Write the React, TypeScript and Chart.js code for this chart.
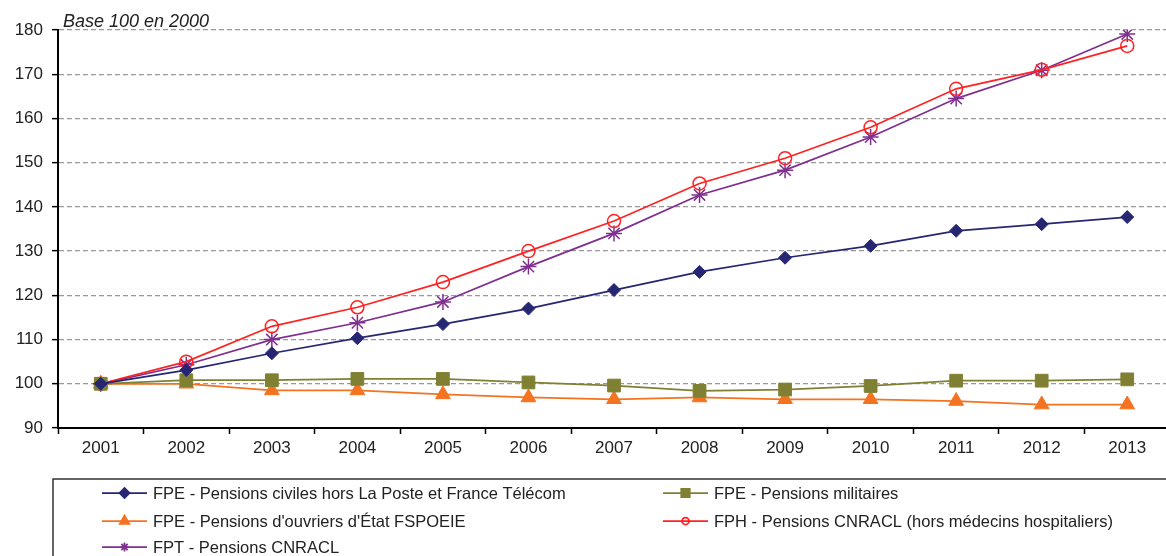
import React, { useEffect, useRef } from 'react';
import { Chart, registerables } from 'chart.js';
import { drawPoint } from 'chart.js/helpers';

Chart.register(...registerables);

const years = ['2001', '2002', '2003', '2004', '2005', '2006', '2007', '2008', '2009', '2010', '2011', '2012', '2013'];
const civiles = [100, 103.1, 106.9, 110.3, 113.5, 117, 121.2, 125.3, 128.5, 131.2, 134.6, 136.1, 137.7];
const militaires = [100, 100.8, 100.8, 101.1, 101.1, 100.3, 99.6, 98.4, 98.7, 99.5, 100.7, 100.7, 101];
const ouvriers = [100, 100, 98.5, 98.5, 97.6, 96.9, 96.5, 96.9, 96.5, 96.5, 96.1, 95.3, 95.3];
const fph = [100, 105, 113, 117.3, 123, 130, 136.8, 145.3, 151, 158, 166.7, 171, 176.4];
const fpt = [100, 104.3, 110, 113.8, 118.5, 126.5, 134, 142.7, 148.3, 155.8, 164.5, 170.9, 179.1];

const seriesLabels = [
  'FPE - Pensions civiles hors La Poste et France Télécom',
  'FPE - Pensions militaires',
  "FPE - Pensions d'ouvriers d'État FSPOEIE",
  'FPH - Pensions CNRACL (hors médecins hospitaliers)',
  'FPT - Pensions CNRACL',
];
const yTicks = { min: 90, max: 180, step: 10 };
const subtitle = 'Base 100 en 2000';

const FONT = '"Liberation Sans", Arial, sans-serif';

const legendPlugin = {
  id: 'customLegend',
  afterDraw(chart: any) {
    const ctx = chart.ctx;
    ctx.save();
    // subtitle
    ctx.font = `italic 18px ${FONT}`;
    ctx.fillStyle = '#222';
    ctx.textAlign = 'left';
    ctx.textBaseline = 'alphabetic';
    ctx.fillText(subtitle, 63, 27);

    // legend box
    ctx.strokeStyle = '#333';
    ctx.lineWidth = 1.5;
    ctx.strokeRect(53, 479, 1300, 200);

    const colX = [102, 663];
    const rowY = [493, 521, 547];
    const pos = [
      [0, 0], [1, 0], [0, 1], [1, 1], [0, 2],
    ];
    const legendRadius = [5, 6, 5.5, 3.5, 4.5];
    chart.data.datasets.forEach((ds: any, i: number) => {
      const [c, r] = pos[i];
      const x = colX[c];
      const y = rowY[r];
      ctx.strokeStyle = ds.borderColor;
      ctx.lineWidth = 1.75;
      ctx.setLineDash([]);
      ctx.beginPath();
      ctx.moveTo(x, y);
      ctx.lineTo(x + 45, y);
      ctx.stroke();
      ctx.fillStyle = ds.pointBackgroundColor;
      ctx.strokeStyle = ds.pointBorderColor;
      drawPoint(ctx, { pointStyle: ds.pointStyle, radius: legendRadius[i], rotation: 0, borderWidth: 1.5 }, x + 22.5, y);
      ctx.font = `16.5px ${FONT}`;
      ctx.fillStyle = '#222';
      ctx.textBaseline = 'middle';
      ctx.textAlign = 'left';
      ctx.fillText(ds.label, x + 51, y + 1);
    });
    ctx.restore();
  },
};

export default function App() {
  const ref = useRef<HTMLCanvasElement>(null);
  useEffect(() => {
    if (!ref.current) return;
    const chart = new Chart(ref.current, {
      type: 'line',
      data: {
        labels: years,
        datasets: [
          {
            label: seriesLabels[0], data: civiles,
            borderColor: '#262673', backgroundColor: '#262673',
            pointStyle: 'rectRot', pointRadius: 6.5, pointBackgroundColor: '#262673', pointBorderColor: '#262673', pointBorderWidth: 1,
          },
          {
            label: seriesLabels[1], data: militaires,
            borderColor: '#808033', backgroundColor: '#808033',
            pointStyle: 'rect', pointRadius: 9, pointBackgroundColor: '#808033', pointBorderColor: '#808033', pointBorderWidth: 1,
          },
          {
            label: seriesLabels[2], data: ouvriers,
            borderColor: '#F47321', backgroundColor: '#F47321',
            pointStyle: 'triangle', pointRadius: 8.5, pointBackgroundColor: '#F47321', pointBorderColor: '#F47321', pointBorderWidth: 1,
          },
          {
            label: seriesLabels[3], data: fph,
            borderColor: '#FF2222', backgroundColor: 'rgba(0,0,0,0)',
            pointStyle: 'circle', pointRadius: 6.5, pointBackgroundColor: 'rgba(0,0,0,0)', pointBorderColor: '#FF2222', pointBorderWidth: 1.5,
          },
          {
            label: seriesLabels[4], data: fpt,
            borderColor: '#7F308F', backgroundColor: '#7F308F',
            pointStyle: 'star', pointRadius: 8, pointBackgroundColor: '#7F308F', pointBorderColor: '#7F308F', pointBorderWidth: 1.5,
          },
        ].map((d) => ({ ...d, borderWidth: 1.75, tension: 0, fill: false })),
      },
      options: {
        animation: false,
        responsive: false,
        layout: { padding: { top: 30, right: 7, left: 0, bottom: 0 } },
        plugins: { legend: { display: false }, tooltip: { enabled: false }, title: { display: false } },
        scales: {
          x: {
            type: 'category',
            offset: true,
            grid: { offset: true, drawOnChartArea: false, drawTicks: true, tickLength: 6, tickColor: '#000', tickWidth: 1.5 },
            border: { color: '#000', width: 2 },
            ticks: { font: { family: FONT, size: 17 }, color: '#222', padding: 4, maxRotation: 0, autoSkip: false },
            afterFit: (s: any) => { s.height = 128; },
          },
          y: {
            min: yTicks.min, max: yTicks.max,
            ticks: { stepSize: yTicks.step, font: { family: FONT, size: 17 }, color: '#222', padding: 9 },
            grid: { color: '#999', lineWidth: 1.3, tickColor: '#000', tickLength: 6, tickWidth: 1.5, tickBorderDash: [] },
            border: { color: '#000', width: 2, dash: [5, 3] },
            afterFit: (s: any) => { s.width = 58; },
          },
        },
      },
      plugins: [legendPlugin],
    } as any);
    return () => chart.destroy();
  }, []);
  return (
    <div style={{ position: 'fixed', left: 0, top: 0, width: '100vw', height: '100vh', overflow: 'hidden', background: '#fff' }}>
      <canvas ref={ref} width={1180} height={556} style={{ display: 'block' }} />
    </div>
  );
}
